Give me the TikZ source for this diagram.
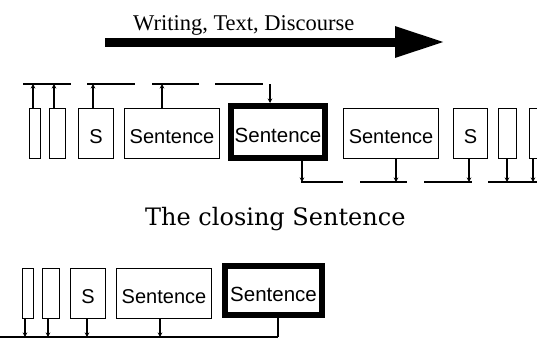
\documentclass[tikz,border=0pt]{standalone}
\usepackage{fontspec}
\usetikzlibrary{arrows.meta}
\newfontfamily\headfont{Liberation Serif}
\newfontfamily\titlefont{DejaVu Serif}
\newfontfamily\boxfont{Liberation Sans}
% box label, set a little below the middle of its box
\newcommand\boxtext[1]{\raisebox{-3.5pt}[\height][\depth]{#1}}
\begin{document}
\begin{tikzpicture}[x=1pt,y=-1pt,
  box/.style={draw, line width=1.5pt, inner sep=0pt, minimum height=50pt,
    font=\boxfont\fontsize{20}{20}\selectfont},
  focus/.style={box, line width=6pt, font=\boxfont\fontsize{20.5}{20.5}\selectfont},
  bus/.style={line width=2pt},
  stem/.style={line width=1.5pt},
  arr/.style={stem, -{Stealth[length=4.5pt,width=4.5pt]}},
  bigarrow/.style={line width=9pt, -{Triangle[length=50pt,width=29pt]}}]
\useasboundingbox (0,0) rectangle (537,338);
\clip (0,0) rectangle (537,338);

% direction of reading
\coordinate (flowL) at (105,42);
\coordinate (flowR) at (445,42);
\draw[bigarrow] (flowL) -- (flowR);
\node[anchor=base west, inner sep=0pt, font=\headfont\fontsize{22.5}{22.5}\selectfont]
  (head) at (133,30) {Writing, Text, Discourse};

% ---- upper row: a sentence in the middle of the text ----
\node[box, minimum width=11pt] (b1) at (35,133.5) {};
\node[box, minimum width=16pt] (b2) at (57.5,133.5) {};
\node[box, minimum width=35pt] (b3) at (96,133.5) {\boxtext{S}};
\node[box, minimum width=95pt] (b4) at (172,133.5) {\boxtext{Sentence}};
\node[focus, minimum width=94pt, minimum height=51.5pt] (f1) at (278,131.75) {\boxtext{Sentence}};
\node[box, minimum width=95pt] (b6) at (391,133.5) {\boxtext{Sentence}};
\node[box, minimum width=34pt] (b7) at (470.5,133.5) {\boxtext{S}};
\node[box, minimum width=18pt] (b8) at (507.5,133.5) {};
\node[box, minimum width=19pt] (b9) at (539,133.5) {};

% links above: earlier sentences
\coordinate (t1a) at (23,84);  \coordinate (t1b) at (71,84);
\coordinate (t2a) at (87,84);  \coordinate (t2b) at (135,84);
\coordinate (t3a) at (152,84); \coordinate (t3b) at (199,84);
\coordinate (t4a) at (215,84); \coordinate (t4b) at (263,84);
\draw[bus] (t1a) -- (t1b);
\draw[bus] (t2a) -- (t2b);
\draw[bus] (t3a) -- (t3b);
\draw[bus] (t4a) -- (t4b);
\coordinate (u1) at (33,84);
\coordinate (u2) at (54,84);
\coordinate (u3) at (93,84);
\coordinate (u4) at (162,84);
\coordinate (u5) at (270,84);
\draw[arr] (u1 |- b1.north) -- (u1);
\draw[arr] (u2 |- b2.north) -- (u2);
\draw[arr] (u3 |- b3.north) -- (u3);
\draw[arr] (u4 |- b4.north) -- (u4);
\draw[arr] (u5) -- (u5 |- f1.north);

% links below: following sentences
\coordinate (d1a) at (301,182); \coordinate (d1b) at (343,182);
\coordinate (d2a) at (360,182); \coordinate (d2b) at (407,182);
\coordinate (d3a) at (424,182); \coordinate (d3b) at (472,182);
\coordinate (d4a) at (488,182); \coordinate (d4b) at (545,182);
\draw[bus] (d1a) -- (d1b);
\draw[bus] (d2a) -- (d2b);
\draw[bus] (d3a) -- (d3b);
\draw[bus] (d4a) -- (d4b);
\coordinate (v5) at (302,182);
\coordinate (v6) at (396,182);
\coordinate (v7) at (469,182);
\coordinate (v8) at (507,182);
\coordinate (v9) at (533,182);
\draw[arr] (v5 |- f1.south) -- (v5);
\draw[arr] (v6 |- b6.south) -- (v6);
\draw[arr] (v7 |- b7.south) -- (v7);
\draw[arr] (v8 |- b8.south) -- (v8);
\draw[arr] (v9 |- b9.south) -- (v9);

% caption
\node[anchor=base west, inner sep=0pt, font=\titlefont\fontsize{24}{24}\selectfont]
  (title) at (145,225) {The closing Sentence};

% ---- lower row: the closing sentence ----
\node[box, minimum width=11pt] (c1) at (28,293.5) {};
\node[box, minimum width=17pt] (c2) at (51,293.5) {};
\node[box, minimum width=35pt] (c3) at (88,293.5) {\boxtext{S}};
\node[box, minimum width=95pt] (c4) at (164,293.5) {\boxtext{Sentence}};
\node[focus, minimum width=97pt, minimum height=49pt] (f2) at (273.5,290.5) {\boxtext{Sentence}};

\coordinate (base0) at (0,337);
\coordinate (base1) at (278,337);
\draw[bus] (base0) -- (base1);
\coordinate (w1) at (25,337);
\coordinate (w2) at (48,337);
\coordinate (w3) at (87,337);
\coordinate (w4) at (160,337);
\draw[arr] (w1 |- c1.south) -- (w1);
\draw[arr] (w2 |- c2.south) -- (w2);
\draw[arr] (w3 |- c3.south) -- (w3);
\draw[arr] (w4 |- c4.south) -- (w4);
\draw[stem] (base1 |- f2.south) -- (base1);
\end{tikzpicture}
\end{document}
